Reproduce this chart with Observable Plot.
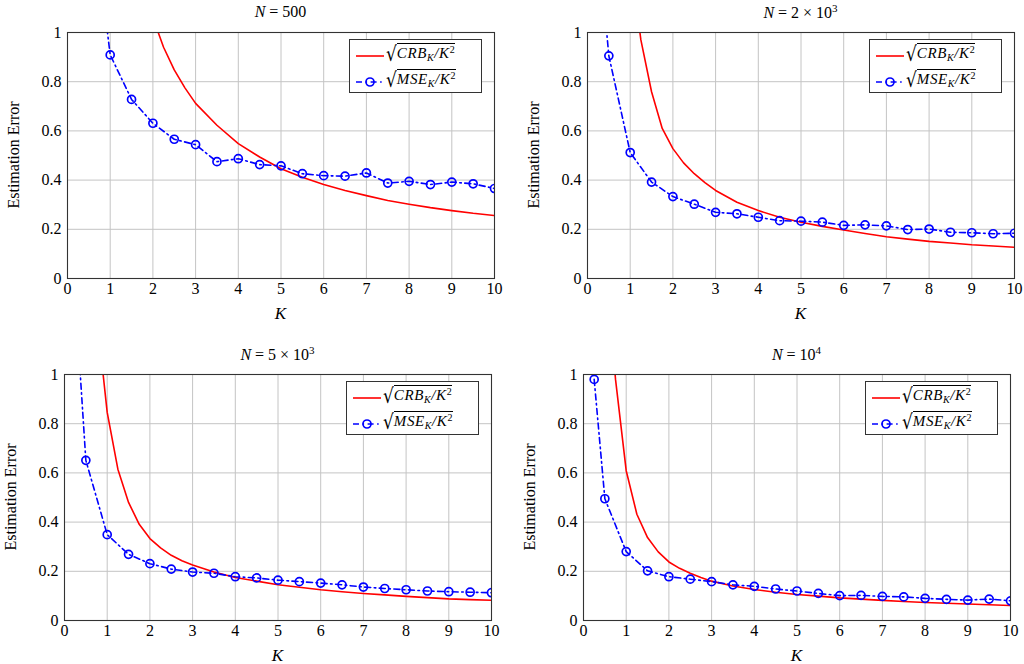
<!DOCTYPE html>
<html><head><meta charset="utf-8">
<script src="https://cdn.jsdelivr.net/npm/d3@7"></script>
<script src="https://cdn.jsdelivr.net/npm/@observablehq/plot@0.6"></script>
<style>
body{margin:0;background:#fff;}
#root{position:relative;width:1024px;height:664px;overflow:hidden;font-family:"Liberation Serif","DejaVu Serif","Times New Roman",serif;color:#000;background:#fff;}
.title{position:absolute;font-size:16px;white-space:nowrap;transform:translate(-50%,-50%);}
.xlab{position:absolute;font-size:17px;font-style:italic;transform:translate(-50%,-50%);}
.ylab{position:absolute;font-size:16px;white-space:nowrap;transform:translate(-50%,-50%) rotate(-90deg);}
.legend{position:absolute;border:1px solid #333;background:#fff;width:133px;height:54px;box-sizing:border-box;}
.row{position:absolute;left:0;height:26px;width:131px;}
.row svg{position:absolute;left:4px;top:7px;}
.math{position:absolute;left:36px;top:3px;font-size:15px;white-space:nowrap;}
.rad{font-family:"DejaVu Serif",serif;font-size:17px;vertical-align:-2px;display:inline-block;transform:scaleY(1.2);}
.ov{border-top:1px solid #000;font-style:italic;padding-top:1px;letter-spacing:0.6px;}
.ov sub{font-size:10px;vertical-align:-3px;}
.ov sup{font-size:10px;vertical-align:5px;font-style:normal;}
i{font-style:italic;}
</style>
</head><body>
<div id="root"></div>
<script>
const titles = ["N = 500", "N = 2 × 10^3", "N = 5 × 10^3", "N = 10^4"];
const xTicks = [0,1,2,3,4,5,6,7,8,9,10];
const yTicks = [0,0.2,0.4,0.6,0.8,1];
const kMse = [0.25,0.5,1,1.5,2,2.5,3,3.5,4,4.5,5,5.5,6,6.5,7,7.5,8,8.5,9,9.5,10];
const kCrb = [0.5,0.75,1,1.25,1.5,1.75,2,2.25,2.5,2.75,3,3.5,4,4.5,5,5.5,6,6.5,7,7.5,8,8.5,9,9.5,10];

const mse500 = [2.2,1.62,0.909,0.728,0.631,0.566,0.544,0.475,0.487,0.463,0.458,0.426,0.418,0.416,0.429,0.388,0.395,0.382,0.392,0.385,0.366];
const crb500 = [5.0,3.3,2.4,1.9,1.5,1.25,1.06,0.94,0.848,0.775,0.712,0.623,0.548,0.494,0.446,0.412,0.382,0.358,0.337,0.317,0.302,0.288,0.276,0.265,0.256];

const mse2k = [1.38,0.905,0.512,0.392,0.333,0.302,0.269,0.263,0.249,0.235,0.233,0.229,0.216,0.218,0.214,0.199,0.201,0.188,0.186,0.182,0.184];
const crb2k = [3.0,1.9,1.3,0.97,0.759,0.61,0.528,0.47,0.426,0.39,0.358,0.310,0.276,0.249,0.229,0.212,0.197,0.183,0.170,0.160,0.151,0.144,0.137,0.132,0.127];

const mse5k = [1.32,0.651,0.349,0.269,0.231,0.209,0.197,0.192,0.178,0.173,0.164,0.158,0.152,0.145,0.136,0.130,0.125,0.120,0.117,0.115,0.113];
const crb5k = [2.0,1.25,0.846,0.615,0.48,0.391,0.333,0.295,0.265,0.243,0.226,0.197,0.175,0.160,0.145,0.135,0.125,0.117,0.110,0.104,0.098,0.093,0.088,0.085,0.082];

const mse10k = [0.980,0.495,0.280,0.202,0.178,0.168,0.158,0.145,0.139,0.128,0.120,0.110,0.101,0.102,0.098,0.096,0.090,0.086,0.083,0.087,0.080];
const crb10k = [1.5,0.98,0.609,0.432,0.337,0.279,0.238,0.212,0.192,0.175,0.160,0.140,0.126,0.115,0.106,0.099,0.092,0.087,0.082,0.077,0.073,0.070,0.067,0.064,0.061];

const series = [[crb500, mse500],[crb2k, mse2k],[crb5k, mse5k],[crb10k, mse10k]];
const frames = [[67,32],[587,32],[64,374],[583,374]];
const FW = 427, FH = 246;
const ML = 60, MR = 10, MT = 10, MB = 50;
const FONT = "'Liberation Serif', 'DejaVu Serif', 'Times New Roman', serif";

const root = document.getElementById("root");

function titleHTML(t){
  const m = t.match(/^N = (.*)$/);
  let rest = m[1].replace(/\^(\d+)/, "<sup style='font-size:11px'>$1</sup>");
  return "<i>N</i> = " + rest;
}

series.forEach(([crb, mse], idx) => {
  const [fx, fy] = frames[idx];
  const crbData = kCrb.map((k,i)=>({k, v: crb[i]}));
  const mseData = kMse.map((k,i)=>({k, v: mse[i]}));
  const chart = Plot.plot({
    width: ML + FW + MR, height: MT + FH + MB,
    marginLeft: ML, marginRight: MR, marginTop: MT, marginBottom: MB,
    x: {domain:[0,10]},
    y: {domain:[0,1]},
    style: {fontFamily: FONT, fontSize:"16px", color:"#000", background:"transparent", overflow:"visible"},
    marks: [
      Plot.gridX(xTicks, {stroke:"#c4c4c4", strokeOpacity:1, strokeWidth:1}),
      Plot.gridY(yTicks, {stroke:"#c4c4c4", strokeOpacity:1, strokeWidth:1}),
      Plot.axisX(xTicks, {tickSize:0, tickPadding:4, tickFormat:d=>String(d), label:null, fontSize:16, fontFamily:FONT, fill:"#000"}),
      Plot.axisY(yTicks, {tickSize:0, tickPadding:6, tickFormat:d=>String(d), label:null, fontSize:16, fontFamily:FONT, fill:"#000"}),
      Plot.line(crbData, {x:"k", y:"v", stroke:"#ff0000", strokeWidth:1.6, clip:true}),
      Plot.line(mseData, {x:"k", y:"v", stroke:"#0000ff", strokeWidth:1.6, strokeDasharray:"6,3.5,1.6,3.5", clip:true}),
      Plot.dot(mseData, {x:"k", y:"v", r:4, stroke:"#0000ff", strokeWidth:1.7, fill:"none", clip:true}),
      Plot.frame({stroke:"#333", strokeWidth:1.1})
    ]
  });
  chart.style.position = "absolute";
  chart.style.left = (fx - ML) + "px";
  chart.style.top = (fy - MT) + "px";
  root.appendChild(chart);

  const t = document.createElement("div");
  t.className = "title";
  t.style.left = (fx + FW/2) + "px";
  t.style.top = (fy - 20) + "px";
  t.innerHTML = titleHTML(titles[idx]);
  root.appendChild(t);

  const xl = document.createElement("div");
  xl.className = "xlab";
  xl.style.left = (fx + FW/2) + "px";
  xl.style.top = (fy + FH + 36) + "px";
  xl.textContent = "K";
  root.appendChild(xl);

  const yl = document.createElement("div");
  yl.className = "ylab";
  yl.style.left = (fx - 53) + "px";
  yl.style.top = (fy + FH/2) + "px";
  yl.textContent = "Estimation Error";
  root.appendChild(yl);

  const lg = document.createElement("div");
  lg.className = "legend";
  lg.style.left = (fx + FW - 12 - 133) + "px";
  lg.style.top = (fy + 7) + "px";
  lg.innerHTML =
    `<div class="row" style="top:1px"><svg width="30" height="14"><line x1="2" y1="8" x2="30" y2="8" stroke="#ff0000" stroke-width="1.6"/></svg>` +
    `<span class="math"><span class="rad">√</span><span class="ov">CRB<sub>K</sub>/K<sup>2</sup></span></span></div>` +
    `<div class="row" style="top:27px"><svg width="30" height="14"><line x1="2" y1="8" x2="30" y2="8" stroke="#0000ff" stroke-width="1.6" stroke-dasharray="6,3.5,1.6,3.5"/><circle cx="16" cy="8" r="4" fill="none" stroke="#0000ff" stroke-width="1.7"/></svg>` +
    `<span class="math"><span class="rad">√</span><span class="ov">MSE<sub>K</sub>/K<sup>2</sup></span></span></div>`;
  root.appendChild(lg);
});
</script>
</body></html>
